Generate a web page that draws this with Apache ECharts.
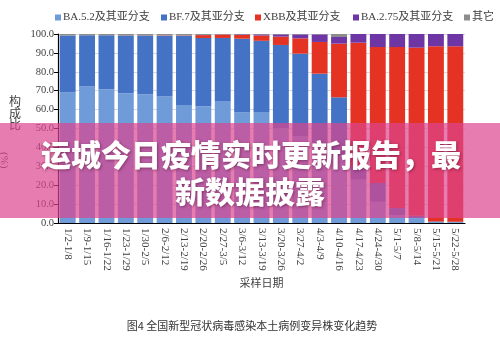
<!DOCTYPE html>
<html><head><meta charset="utf-8">
<script src="https://cdn.jsdelivr.net/npm/echarts@6/dist/echarts.min.js"></script>
<style>html,body{margin:0;padding:0;background:#fff}#c{width:500px;height:342px}</style>
</head><body><div id="c"></div>
<script>
const categories = ['1/2-1/8','1/9-1/15','1/16-1/22','1/23-1/29','1/30-2/5','2/6-2/12','2/13-2/19','2/20-2/26','2/27-3/5','3/6-3/12','3/13-3/19','3/20-3/26','3/27-4/2','4/3-4/9','4/10-4/16','4/17-4/23','4/24-4/30','5/1-5/7','5/8-5/14','5/15-5/21','5/22-5/28'];
const ba52  = [69.0,72.2,70.8,68.7,68.1,66.9,62.5,61.8,64.6,58.4,58.7,50.0,46.0,42.0,36.0,22.9,11.2,4.2,2.4,0.5,0.4];
const bf7   = [30.2,27.1,28.5,30.5,31.1,32.1,36.6,36.1,33.3,39.1,37.7,44.2,43.6,37.0,30.5,6.9,10.0,3.7,1.5,0.3,0.3];
const xbb   = [0.0,0.0,0.0,0.1,0.1,0.2,0.2,1.5,1.8,2.0,2.8,4.4,8.1,16.8,28.4,65.6,71.9,85.2,88.9,92.7,92.8];
const ba275 = [0.0,0.0,0.0,0.0,0.0,0.1,0.0,0.1,0.1,0.3,0.6,1.2,2.1,4.0,3.5,4.6,6.9,6.9,7.2,6.5,6.5];
const other = [0.8,0.7,0.7,0.7,0.7,0.7,0.7,0.5,0.2,0.2,0.2,0.2,0.2,0.2,1.6,0.0,0.0,0.0,0.0,0.0,0.0];
const seriesNames = ['BA.5.2及其亚分支','BF.7及其亚分支','XBB及其亚分支','BA.2.75及其亚分支','其它'];
const colors = ['#6F9CD9','#4472C4','#E53323','#6E35A5','#8C8C8C'];
const yTicks = [0,10,20,30,40,50,60,70,80,90,100];
const legendLeft = [55,161,255,353,464];

const serif = "'Liberation Serif','Noto Sans CJK SC',serif";
const chart = echarts.init(document.getElementById('c'));
const dataSets = [ba52, bf7, xbb, ba275, other];
chart.setOption({
  animation:false,
  color: colors,
  legend: seriesNames.map((n,i)=>({top:12,left:legendLeft[i],itemWidth:6,itemHeight:6,icon:'rect',padding:0,
    textStyle:{fontFamily:serif,fontSize:11,color:'#404040',padding:[0,0,0,-3]},
    data:[n]})),
  grid:{left:58,right:35,top:34,bottom:119},
  xAxis:{type:'category',data:categories,
    name:'采样日期',nameLocation:'middle',nameGap:49,
    nameTextStyle:{fontFamily:serif,fontSize:11,color:'#404040'},
    axisLine:{lineStyle:{color:'#000',width:1.2}},
    axisTick:{length:3,lineStyle:{color:'#000'}},
    axisLabel:{rotate:-90,interval:0,margin:5,fontFamily:serif,fontSize:11,color:'#404040'}},
  yAxis:{type:'value',min:0,max:100,interval:10,
    axisLine:{show:true,lineStyle:{color:'#000',width:1.2}},
    axisTick:{show:true,length:4,lineStyle:{color:'#000'}},
    axisLabel:{margin:4,fontFamily:serif,fontSize:10.5,color:'#404040',formatter:v=>v.toFixed(1)},
    splitLine:{lineStyle:{color:'#d9d9d9'}}},
  series: seriesNames.map((n,i)=>({name:n,type:'bar',stack:'total',barCategoryGap:'18%',data:dataSets[i]})),
  graphic:[
    {type:'text',left:9,top:97,z:50,style:{text:'构\n成\n比',fontFamily:serif,fontSize:12,lineHeight:11.5,fill:'#404040'}},
    {type:'text',x:9,y:152,rotation:-Math.PI/2,z:50,style:{text:'(%)',fontFamily:serif,fontSize:11,fill:'#404040'}},
    {type:'rect',z:100,shape:{x:0,y:123,width:500,height:95},style:{fill:'rgba(219,69,142,0.7)'}},
    {type:'text',z:101,x:251,y:155,style:{text:'运城今日疫情实时更新报告，最',fontFamily:"'Noto Sans CJK SC'",fontWeight:900,fontSize:30,fill:'#fff',align:'center',verticalAlign:'middle',textShadowColor:'rgba(60,0,30,0.45)',textShadowBlur:3,textShadowOffsetX:1,textShadowOffsetY:1}},
    {type:'text',z:101,x:250,y:192,style:{text:'新数据披露',fontFamily:"'Noto Sans CJK SC'",fontWeight:900,fontSize:30,fill:'#fff',align:'center',verticalAlign:'middle',textShadowColor:'rgba(60,0,30,0.45)',textShadowBlur:3,textShadowOffsetX:1,textShadowOffsetY:1}},
    {type:'text',z:50,x:252,y:326,style:{text:'图4 全国新型冠状病毒感染本土病例变异株变化趋势',fontFamily:"'Noto Sans CJK SC'",fontSize:11,fill:'#333',align:'center',verticalAlign:'middle'}}
  ]
});
</script></body></html>
